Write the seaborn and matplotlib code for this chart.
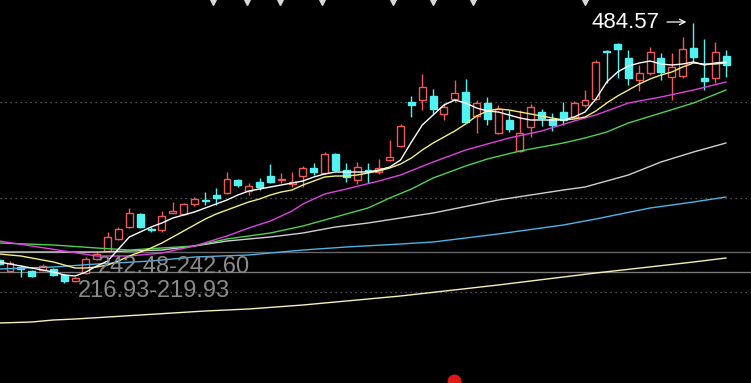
import matplotlib
matplotlib.use("Agg")
import matplotlib.pyplot as plt
import seaborn as sns
import pandas as pd
from matplotlib.patches import Rectangle

# ---- candle data (price units) ----
opens = [248, 237, 241, 237, 238, 239, 233, 227, 235, 249,
         257, 269, 281, 294, 279.5, 278, 295, 294, 304, 308.5,
         313, 315, 328, 317, 326, 332, 328.5, 324, 332, 340,
         335, 354, 338, 328, 338, 336, 348, 362, 406, 408,
         412, 394, 409, 416, 392, 405, 375, 388, 357, 381,
         396, 389, 396, 391, 403, 409, 457.5, 464, 450, 428,
         435, 450, 431, 432, 460, 430, 430, 452]
highs = [250, 247, 243, 238, 244, 240, 234, 231, 251, 256,
         276, 281, 300, 295, 281, 297, 306, 305, 311, 316,
         320, 336, 329, 325, 330, 344, 335, 336, 342, 345,
         356, 355, 345, 346, 345, 349, 368, 384, 412, 434,
         419, 405, 428, 429, 408, 411, 403, 398, 398, 404,
         399, 395, 406, 407, 418, 448, 458, 465, 458, 443,
         461, 455, 455, 471, 484.57, 469, 466, 458]
lows = [242, 236, 231, 231, 237, 232, 225, 226, 234, 248,
        256, 268, 280, 280, 276, 276, 295, 293, 302, 303,
        303, 314, 321, 313, 318, 325, 325, 321, 321, 333,
        334, 337, 326, 324, 325, 334, 347, 361, 391, 398,
        394, 388, 406, 385, 375, 383, 374, 376, 356, 371,
        382, 377, 383, 390, 401, 408, 425, 430, 423, 417,
        433, 428, 408, 430, 446, 418, 425, 431]
closes = [244, 245, 239, 232, 242, 233, 227, 230, 249, 254,
          271, 279, 295, 281, 278.5, 292, 297, 304, 309, 307.5,
          310, 329, 323, 322, 321, 326, 329.5, 326, 340, 336,
          354, 338, 331, 341, 337, 340, 351, 382, 403, 421,
          399, 401, 415, 386, 405, 389, 399, 379, 375, 401,
          390, 383, 388, 405, 408, 446, 456, 459, 430, 435,
          456, 436, 441, 459, 451, 427, 456, 443]

# ---- moving averages ----
ma5 = [246, 244, 242, 240, 238, 236, 233, 232, 236, 242,
       247, 259, 271, 276, 281, 285, 290, 293, 296, 300,
       304, 308, 313, 317, 319, 321, 323, 325, 327, 331,
       334, 336, 336, 336, 336, 338, 341, 348, 366, 383,
       393, 403, 408, 405, 400, 397, 396, 393, 390, 388,
       388, 388, 388, 391, 396, 409, 426, 436, 442, 445,
       447, 444, 443, 444, 446, 443, 445, 446]
ma10 = [254, 253, 252, 250, 248, 246, 243, 240, 240, 241,
        243, 247, 252, 256, 260, 265, 271, 277, 283, 289,
        294, 298, 302, 306, 309, 313, 316, 318, 323, 327,
        331, 332, 332, 333, 335, 337, 340, 344, 350, 358,
        365, 371, 377, 384, 392, 397, 399, 398, 396, 394,
        392, 390, 388, 389, 391, 397, 405, 412, 418, 424,
        429, 433, 436, 441, 445, 444, 444, 445]
ma20_idx = [0, 3, 6, 9, 12, 15, 18, 21, 23, 25, 27, 28, 30, 32, 35, 37, 40,
            43, 47, 50, 53, 55, 58, 61, 64, 67]
ma20 = [267, 262, 257, 252, 252, 255, 262, 272, 280, 287, 297, 304, 314,
        319, 327, 333, 346, 358, 370, 377, 387, 393, 405, 411, 418, 426]
ma30_idx = [0, 5, 9, 12, 15, 18, 21, 25, 28, 31, 34, 36, 38, 40, 43, 45, 48,
            50, 52, 54, 56, 58, 61, 64, 67]
ma30 = [265, 263, 260, 258, 260, 262, 269, 275, 282, 291, 300, 310, 319,
        330, 342, 349, 357, 361, 365, 370, 376, 385, 395, 405, 418]
ma60_idx = [0, 9, 15, 18, 21, 25, 28, 31, 34, 37, 40, 46, 52, 54, 58, 61,
            64, 67]
ma60 = [256, 256, 258, 262, 267, 271, 275, 281, 285, 290, 295, 308, 318,
        321, 333, 346, 356, 365]
ma120_idx = [0, 5, 9, 14, 18, 23, 28, 32, 37, 40, 46, 52, 55, 60, 64, 67]
ma120 = [239, 241, 244, 247, 251, 253, 258, 261, 264, 266, 274, 283, 289,
         300, 306, 311]
ma250_idx = [0, 3, 5, 7, 10, 13, 16, 19, 23, 28, 37, 46, 55, 64, 67]
ma250 = [185, 186, 188, 189, 191, 193, 195, 197, 199, 203, 212, 223, 235,
         246, 250]

solid_levels = [256, 236]
dotted_levels = [406, 310, 216]
high_label = "484.57"
gap_labels = ["242.48-242.60", "216.93-219.93"]
top_marks = [19.7, 22.8, 25.9, 29.8, 36.3, 40.0, 43.7, 54.0]

sns.set_style("dark", {"axes.facecolor": "black", "figure.facecolor": "black"})
plt.rcParams['font.family'] = ['Liberation Sans', 'DejaVu Sans']

fig = plt.figure(figsize=(7.51, 3.83), dpi=100)
ax = fig.add_axes([0, 0, 1, 1])
ax.set_facecolor("black")

ax.axhline(solid_levels[0], color="#666666", lw=1.0, zorder=1)
ax.axhline(solid_levels[1], color="#7a7a7a", lw=1.0, zorder=1)
for lv in dotted_levels:
    ax.axhline(lv, color="#6a6a6a", lw=0.9, ls=(0, (1, 3)), zorder=1)

RED = "#ee5a55"
CYAN = "#52f2f2"
w = 0.64
idx = list(range(len(opens)))
for i in idx:
    o, h, l, c = opens[i], highs[i], lows[i], closes[i]
    up = c >= o
    col = RED if up else CYAN
    ax.vlines(i, l, h, color=col, lw=1.0, zorder=2)
    bot = min(o, c)
    hgt = max(abs(c - o), 0.6)
    ax.add_patch(Rectangle((i - w / 2, bot), w, hgt,
                           facecolor="black" if up else CYAN,
                           edgecolor=col, lw=1.0, zorder=3))

lines = [
    (ma250_idx, ma250, "#f4f0b8"),
    (ma120_idx, ma120, "#4ab4e6"),
    (ma60_idx, ma60, "#cfcfcf"),
    (ma30_idx, ma30, "#4fd04f"),
    (ma20_idx, ma20, "#e040e0"),
    (idx, ma10, "#f2f07a"),
    (idx, ma5, "#ffffff"),
]
for xs, ys, colr in lines:
    df = pd.DataFrame({"x": xs, "y": ys})
    sns.lineplot(data=df, x="x", y="y", color=colr, lw=1.0, ax=ax,
                 legend=False, zorder=4, estimator=None, sort=False)
ax.set_xlim(0.078, 69.3)
ax.set_ylim(125, 508)
ax.axis("off")

# labels
ax.text(54.6, 486, high_label, color="white", fontsize=16,
        va="center", ha="left", zorder=6)
ax.annotate("", xy=(63.6, 486), xytext=(61.3, 486),
            arrowprops=dict(arrowstyle="->", color="white", lw=0.9), zorder=6)
ax.text(9.1, 241, gap_labels[0], color="#8a8a8a", fontsize=17,
        va="center", ha="left", zorder=6)
ax.text(7.3, 217, gap_labels[1], color="#8a8a8a", fontsize=17,
        va="center", ha="left", zorder=6)

ax.plot(top_marks, [506] * len(top_marks), ls="none", marker="v",
        color="#d8d8d8", ms=4, zorder=6)
ax.plot([41.9], [127], ls="none", marker="o", color="#e01818", ms=9, zorder=6)

fig.savefig("out.png", dpi=100, facecolor="black")
